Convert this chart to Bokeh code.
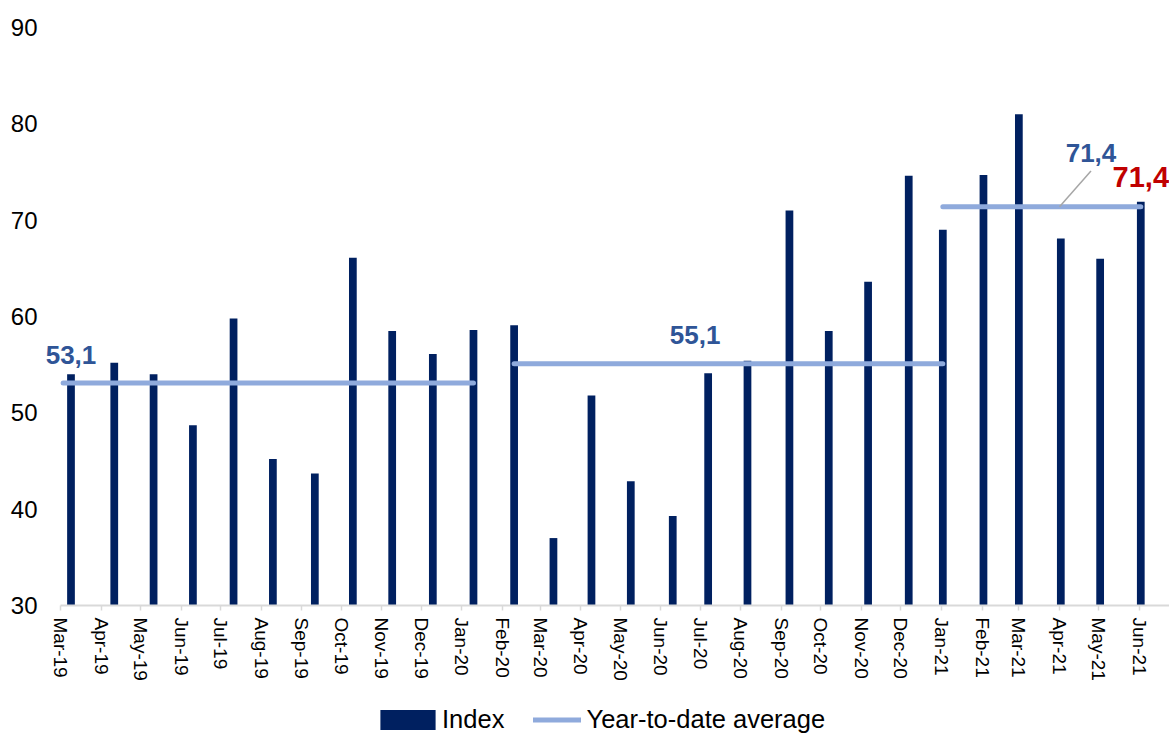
import pandas as pd
from bokeh.plotting import figure
from bokeh.models import Range1d, FixedTicker, Legend, LegendItem, Label
from bokeh.embed import file_html
from bokeh.resources import INLINE

# ---------------- data ----------------
months = ["Mar-19", "Apr-19", "May-19", "Jun-19", "Jul-19", "Aug-19", "Sep-19",
          "Oct-19", "Nov-19", "Dec-19", "Jan-20", "Feb-20", "Mar-20", "Apr-20",
          "May-20", "Jun-20", "Jul-20", "Aug-20", "Sep-20", "Oct-20", "Nov-20",
          "Dec-20", "Jan-21", "Feb-21", "Mar-21", "Apr-21", "May-21", "Jun-21"]

bar_dates = ["2019-03-09", "2019-04-11", "2019-05-11", "2019-06-10", "2019-07-11",
             "2019-08-10", "2019-09-11", "2019-10-10", "2019-11-09", "2019-12-10",
             "2020-01-10", "2020-02-10", "2020-03-11", "2020-04-09", "2020-05-09",
             "2020-06-10", "2020-07-07", "2020-08-06", "2020-09-07", "2020-10-07",
             "2020-11-06", "2020-12-07", "2021-01-02", "2021-02-02", "2021-03-01",
             "2021-04-02", "2021-05-02", "2021-06-02"]

index_values = [54.0, 55.2, 54.0, 48.7, 59.8, 45.2, 43.7, 66.1, 58.5, 56.1,
                58.6, 59.1, 37.0, 51.8, 42.9, 39.3, 54.1, 55.4, 71.0, 58.5,
                63.6, 74.6, 69.0, 74.7, 81.0, 68.1, 66.0, 71.9]

avg_values = [53.1, 55.1, 71.4]
avg_start = ["2019-03-03", "2020-02-10", "2021-01-02"]
avg_end = ["2020-01-10", "2021-01-02", "2021-06-02"]
avg_labels = ["53,1", "55,1", "71,4"]
latest_label = "71,4"

y_ticks = [30, 40, 50, 60, 70, 80, 90]

# ---------------- helpers ----------------
base = pd.Timestamp("2019-03-01")


def to_days(dates):
    return [float((pd.Timestamp(d) - base) / pd.Timedelta(days=1)) for d in dates]


tick_x = [int((t - base) / pd.Timedelta(days=1))
          for t in pd.to_datetime(months, format="%b-%y")]
bar_x = to_days(bar_dates)
avg_x0 = to_days(avg_start)
avg_x1 = to_days(avg_end)

FONT = "Liberation Sans"
NAVY = "#002060"
LIGHT = "#8FAADC"
BLUE_TXT = "#2F5597"
RED_TXT = "#C00000"

X_END = 845.9
Y_MIN = 30
p = figure(width=1169, height=734, output_backend="svg", toolbar_location=None,
           x_range=Range1d(-15.26, X_END), y_range=Range1d(16.61, 90),
           min_border_left=40, min_border_right=0, min_border_top=27,
           min_border_bottom=0)
p.outline_line_color = None
p.xgrid.grid_line_color = None
p.ygrid.grid_line_color = None
p.background_fill_color = "white"
p.border_fill_color = "white"

bars_r = p.vbar(x=bar_x, top=index_values, bottom=Y_MIN, width=5.9,
                fill_color=NAVY, line_color=None)

avg_r = p.segment(x0=avg_x0, y0=avg_values, x1=avg_x1, y1=avg_values,
                  line_color=LIGHT, line_width=5, line_cap="round")

# leader line from the last average label to its line
p.segment(x0=to_days(["2021-04-01"]), y0=[avg_values[2]],
          x1=to_days(["2021-04-25"]), y1=[75.1],
          line_color="#A6A6A6", line_width=1.5)

# data labels
label_pos = [("2019-03-09", 56.05), ("2020-06-27", 58.05), ("2021-04-25", 77.0)]
for (d, yy), txt in zip(label_pos, avg_labels):
    p.add_layout(Label(x=to_days([d])[0], y=yy, text=txt, text_font=FONT,
                       text_font_style="bold", text_font_size="26px",
                       text_color=BLUE_TXT, text_align="center",
                       text_baseline="middle"))
p.add_layout(Label(x=bar_x[-1], y=74.5, text=latest_label, text_font=FONT,
                   text_font_style="bold", text_font_size="29px",
                   text_color=RED_TXT, text_align="center",
                   text_baseline="middle"))

# axes
xa = p.xaxis[0]
xa.fixed_location = Y_MIN
xa.bounds = (0, X_END)
xa.ticker = FixedTicker(ticks=tick_x)
xa.major_label_overrides = {t: m for t, m in zip(tick_x, months)}
xa.major_label_orientation = "vertical"
xa.major_label_text_font = FONT
xa.major_label_text_font_size = "19px"
xa.major_label_text_color = "#000000"
xa.major_label_standoff = 7
xa.axis_line_color = "#D9D9D9"
xa.axis_line_width = 2
xa.major_tick_line_color = "#D9D9D9"
xa.major_tick_line_width = 1.5
xa.major_tick_out = 5
xa.major_tick_in = 0
xa.minor_tick_line_color = None

ya = p.yaxis[0]
ya.ticker = FixedTicker(ticks=y_ticks)
ya.axis_line_color = None
ya.major_tick_line_color = None
ya.minor_tick_line_color = None
ya.major_tick_out = 0
ya.major_tick_in = 0
ya.major_label_standoff = 3
ya.major_label_text_font = FONT
ya.major_label_text_font_size = "24px"
ya.major_label_text_color = "#000000"

# legends (under the axis labels)
common = dict(orientation="horizontal", padding=0, margin=0,
              border_line_color=None, background_fill_alpha=0,
              label_text_font=FONT, label_text_font_size="25.5px",
              label_text_color="#000000", label_height=25, glyph_height=25)
leg1 = Legend(items=[LegendItem(label="Index", renderers=[bars_r])],
              location=(333, 0), glyph_width=69, label_standoff=-5, **common)
leg2 = Legend(items=[LegendItem(label="Year-to-date average", renderers=[avg_r])],
              location=(492.5, 0), glyph_width=48, label_standoff=6, **common)
p.add_layout(leg1)
p.add_layout(leg2)

open("out.html", "w").write(file_html(p, INLINE))
